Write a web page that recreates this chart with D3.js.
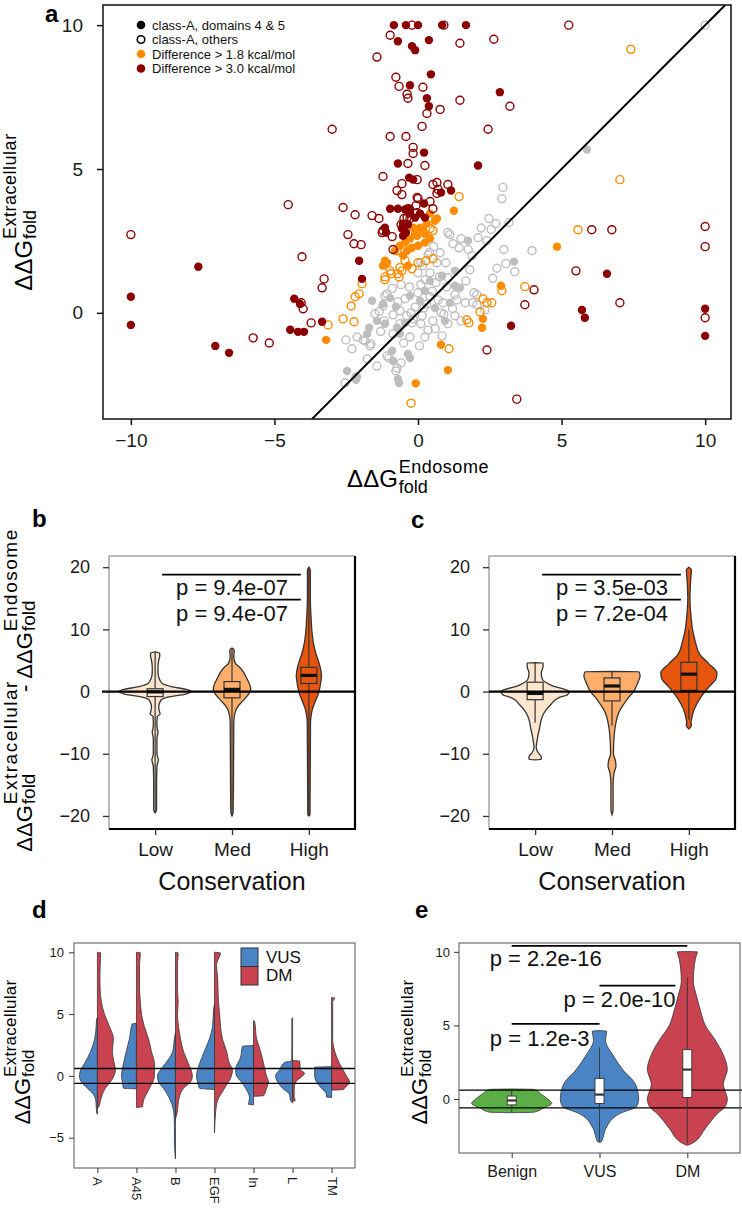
<!DOCTYPE html>
<html>
<head>
<meta charset="utf-8">
<script src="https://cdn.jsdelivr.net/npm/d3@7"></script>
<style>
  body { margin: 0; background: #fff; }
  svg { display: block; font-family: "Liberation Sans", Arial, Helvetica, sans-serif; }
</style>
</head>
<body>
<div id="fig"></div>
<script>
// ---- panel a: DDG endosome (x) vs extracellular (y) ----
const grayOpen = [
  [10,10],[2.96,4.36],[2.92,3.97],[2.47,3.28],[2.71,3.10],[3.17,3.14],[1.11,2.72],[1.50,2.58],[2.40,2.51],[1.43,2.26],
  [1.88,1.99],[2.99,2.20],[3.97,2.16],[3.37,1.43],[3.06,1.71],[1.04,2.79],[1.22,2.40],[2.09,2.61],[0.77,2.09],[0.35,2.02],
  [0.17,1.64],[0.66,1.74],[0.97,1.74],[0,1.39],[0.42,1.39],[1.04,1.22],[1.67,1.11],[-0.59,0.98],[0.10,0.98],[0.63,1.05],
  [2.05,0.63],[2.05,0.28],[2.33,0.10],[1.29,0.63],[-1.15,0.59],[-0.45,0.49],[0.42,0.56],[0.87,0.35],[-1.50,-0.03],[-0.63,0.07],
  [-0.24,0],[0.21,0.17],[0.80,0],[1.29,-0.10],[1.50,-0.28],[-0.21,-0.35],[0.10,-0.38],[0.52,-0.28],[1.04,-0.38],[-2.12,-0.84],
  [-1.84,-0.98],[-1.67,-1.15],[-0.87,-0.73],[-0.28,-0.84],[0.24,-0.84],[0.84,-0.80],[-1.01,-1.57],[-0.59,-1.74],[-1.43,-1.85],[-0.77,-2.02],
  [-2.51,-0.94],[-2.30,-1.25],[-1.91,-0.94],[-1.64,-1.08],[-1.77,-1.60],[-1.08,-1.50],[-0.73,-1.92],[-2.54,-2.44],[-2.16,-2.23],[-1.22,0.24],
  [-0.87,-0.07],[-1.18,-0.28],[-0.63,-0.38],[-0.17,-0.21],[-1.08,0.66],[-0.70,0.38],[1.95,0.70],[1.91,0.35],[0.3,0.3],[0.5,0.75],
  [0.7,0.45],[1.0,0.9],[0.15,-0.1],[-0.1,0.2],[0.6,-0.55],[1.2,0.15],[-0.4,-0.1],[0.35,-0.6],[0.9,-0.05],[1.35,0.45],
  [-0.3,0.9],[0.0,0.7],[0.75,1.25],[0.25,1.15],[-0.9,0.85],[-1.35,0.05],[1.65,0.35],[-0.5,-1.05],[0.05,-1.15],[-1.3,-0.65],
  [2.6,1.2],[2.75,1.55],[1.8,1.5],[1.75,2.2],[2.2,2.95],[2.55,2.9],[0.55,2.3],[0.4,2.1],[0.1,1.75]
];
const grayFilled = [
  [5.88,5.68],[1.74,2.51],[3.34,1.78],[1.46,0.87],[1.29,1.46],[-1.70,-0.52],[-1.43,-0.28],[-0.97,0.52],[-0.28,0.59],[-0.63,-0.73],
  [-0.35,-1.43],[-0.87,-1.67],[-2.47,-2.02],[-2.12,-2.23],[-0.70,-2.30],[-0.66,-2.44],[-2.16,-2.33],[-1.77,-0.73],[-1.15,-0.38],[-0.73,-0.52],
  [0.59,0.17],[0.42,1.11],[0.94,-0.28],[0.07,0.42],[-0.77,0.21],[-0.28,-1.57],[-0.90,-1.32],[-0.45,-0.35],[0.24,0.77],[0.84,1.29],
  [-1.60,0.42],[-1.22,0.31],[1.11,0.35],[1.29,0.94]
];
const orangeOpen = [
  [7.41,9.16],[1.43,4.04],[7.03,4.63],[5.57,2.89],[3.72,0.91],[2.92,0.77],[2.40,0.35],[2.57,0.35],[2.16,0.03],[1.77,-0.35],
  [1.08,-1.25],[-0.24,-3.14],[1.70,-0.24],[2.26,0.49],[-3.13,-0.42],[-2.61,-0.21],[-2.23,-0.31],[-2.33,0.24],[-2.19,0.56],[-2.05,0.66],
  [-1.95,1.01],[-1.15,1.25],[-1.15,1.15],[-0.70,1.36],[-0.97,1.46],[-0.66,1.25],[-0.94,1.36],[-0.63,1.57],[-0.73,2.16],[0.52,2.86],
  [0.42,2.93],[-0.45,1.81],[0,1.74],[0.28,1.81],[0.52,1.88],[-0.56,1.46],[-0.21,1.53]
];
const orangeFilled = [
  [1.25,3.55],[4.84,2.30],[2.89,0.94],[2.26,-0.21],[2.23,-0.52],[0.80,-1.11],[1.04,-1.99],[-0.08,-2.45],[-3.20,-0.94],[0.66,3.28],
  [-0.17,2.96],[-0.03,2.68],[0.24,2.75],[0.42,3.45],[0.59,3.20],[0.31,3.10],[0.07,2.96],[0.17,2.86],[-0.10,2.75],[-0.28,2.58],
  [-0.45,2.44],[-0.63,2.33],[-0.21,2.26],[0,2.33],[0.24,2.44],[0.42,2.58],[-0.38,2.16],[-0.80,2.16],[-0.35,1.64],[-1.22,1.64],
  [-1.15,1.81],[-0.52,1.99],[-1.08,1.74]
];
const redOpen = [
  [-0.21,10],[0.90,10],[5.25,10],[-0.97,9.65],[1.46,9.37],[2.64,9.51],[-1.43,8.89],[-0.77,8.19],[-0.66,7.87],[0.17,7.84],
  [-0.38,7.60],[-0.35,7.46],[1.46,7.39],[3.20,7.18],[0.77,7.07],[0.31,6.93],[0.14,6.48],[-2.99,6.38],[2.44,6.38],[-0.97,6.13],
  [-0.42,6.13],[-0.17,5.75],[-0.17,5.54],[-0.35,5.19],[0.24,5.12],[-1.22,4.74],[-0.03,4.63],[0.66,4.53],[1.04,4.46],[-0.56,4.49],
  [-0.73,4.25],[-0.56,4.11],[0,3.97],[0.42,3.87],[0.52,3.62],[0.70,4.29],[-0.03,4.01],[0.52,4.46],[0.66,4.15],[-0.38,3.31],
  [-1.22,2.86],[-0.35,3.62],[-0.03,3.48],[-4.52,3.76],[-2.61,3.66],[-2.19,3.41],[-1.60,3.38],[-1.36,3.28],[-1.25,2.79],[-0.90,2.65],
  [-0.49,3.28],[-0.28,3.28],[-0.07,3.73],[-0.59,3.07],[-10,2.72],[-2.44,2.72],[-2.23,2.40],[-1.98,2.37],[-0.87,2.20],[-4.04,1.95],
  [-3.27,1.18],[-3.34,0.87],[-4.07,0.35],[-4.00,0.14],[-3.72,-0.35],[-5.74,-0.87],[-5.18,-1.05],[6.05,2.89],[6.75,2.89],[5.50,1.46],
  [10,3.0],[10,2.3],[10,-0.17],[7.03,0.35],[4.04,0.80],[3.72,0.28],[2.40,-1.29],[3.44,-3.0]
];
const redFilled = [
  [-0.84,10],[-0.42,10],[0,10],[0.84,10],[1.67,10],[-0.70,9.44],[0.38,9.48],[-0.21,9.27],[-0.10,9.13],[0.45,8.29],
  [-0.28,7.91],[2.85,7.67],[0.31,7.46],[0.38,7.18],[0.21,5.57],[-0.70,5.19],[2.09,5.12],[-0.31,4.70],[-0.17,4.63],[0.80,4.18],
  [1.15,4.25],[0.21,3.80],[-0.97,3.62],[-0.70,3.62],[-0.45,3.59],[-0.28,3.62],[0.07,3.45],[-0.52,2.96],[-0.42,2.79],[-1.11,2.79],
  [-0.56,2.93],[-0.35,3.07],[-1.15,2.96],[-0.52,3.10],[-0.52,2.68],[-0.28,3.45],[-0.10,3.31],[0.24,3.31],[-2.05,1.81],[-1.95,1.18],
  [-10,0.56],[-7.65,1.60],[-10,-0.42],[-7.06,-1.15],[-6.58,-1.39],[-4.31,0.49],[-4.11,0.31],[-4.45,-0.59],[-4.18,-0.66],[-3.97,-0.66],
  [-3.34,-0.31],[6.58,1.36],[10,0.14],[10,-0.80],[5.71,0.10],[5.81,-0.17],[3.24,-0.45]
];
const legendA = ['class-A, domains 4 & 5', 'class-A, others', 'Difference > 1.8 kcal/mol', 'Difference > 3.0 kcal/mol'];
const ticksAx = [-10, -5, 0, 5, 10];
const ticksAy = [0, 5, 10];

// ---- panels b, c: difference by conservation (profile = [value, relative density]) ----
const conservation = ['Low', 'Med', 'High'];
const ticksBC = [-20, -10, 0, 10, 20];
const bProfiles = [
  [[6.4,0],[6.2,0.12],[5.8,0.13],[5,0.1],[4,0.08],[3,0.08],[2,0.12],[1.3,0.2],[0.8,0.45],[0.3,0.9],[0,1],[-0.4,0.85],[-0.9,0.35],[-1.5,0.15],[-2.5,0.1],[-3.2,0.12],[-3.6,0.14],[-4,0.06],[-5,0.05],[-6,0.06],[-6.5,0.08],[-7.5,0.05],[-10,0.05],[-11,0.09],[-12,0.05],[-15,0.04],[-19,0.04],[-19.5,0]],
  [[7,0],[6.7,0.06],[5.5,0.05],[4.5,0.1],[4,0.2],[3,0.33],[2,0.42],[1,0.5],[0.3,0.52],[-0.5,0.45],[-1.5,0.3],[-2.5,0.15],[-3.5,0.08],[-5,0.05],[-10,0.045],[-15,0.04],[-19.5,0.03],[-20,0]],
  [[20,0],[19.5,0.04],[15,0.04],[12,0.06],[10,0.08],[8,0.12],[6,0.2],[5,0.26],[3.5,0.33],[2.5,0.35],[1.5,0.33],[0,0.28],[-1,0.22],[-2,0.15],[-3,0.09],[-4,0.06],[-5,0.045],[-10,0.04],[-15,0.035],[-19.8,0.03],[-20,0]]
];
const cProfiles = [
  [[4.65,0],[4.6,0.22],[4,0.22],[3,0.17],[2,0.2],[1,0.45],[0,0.95],[-0.5,0.9],[-1,0.65],[-2,0.45],[-3,0.3],[-4,0.2],[-5,0.15],[-6,0.12],[-7,0.08],[-8,0.05],[-9,0.03],[-9.8,0.08],[-10.5,0.17],[-10.9,0.17],[-11,0]],
  [[3.25,0],[3.2,0.75],[2.5,0.78],[1.5,0.72],[0,0.6],[-1,0.45],[-2,0.33],[-3,0.22],[-4,0.15],[-5,0.11],[-6,0.08],[-8,0.05],[-10,0.04],[-11,0.09],[-12,0.11],[-13,0.06],[-15,0.03],[-19,0.03],[-19.8,0]],
  [[20,0],[19.6,0.07],[18,0.05],[15,0.03],[12,0.06],[10,0.1],[8,0.18],[6,0.3],[4.5,0.55],[3,0.78],[2,0.75],[1,0.6],[0,0.45],[-1,0.32],[-2,0.22],[-3,0.14],[-4,0.09],[-5,0.06],[-5.5,0.07],[-6,0]]
];
// [q1, median, q3, whisker low, whisker high]
const bBoxes = [[-0.8,-0.05,0.45,-19.5,6.4],[-1,0.35,1.6,-20,7],[1.3,2.6,3.9,-20,20]];
const cBoxes = [[-1.3,-0.3,1.5,-5,4.6],[-1.5,0.9,2.2,-5.5,3.2],[0.2,2.8,4.7,-4.5,10]];
const bPvals = ['p = 9.4e-07', 'p = 9.4e-07'];
const cPvals = ['p = 3.5e-03', 'p = 7.2e-04'];
const bcPairs = [['Low', 'High'], ['Med', 'High']];

// ---- panel d: split violins by domain, VUS left / DM right ----
const domains = ['A', 'A45', 'B', 'EGF', 'In', 'L', 'TM'];
const ticksD = [-5, 0, 5, 10];
const dVus = [
  [[4.7,0],[4.6,0.04],[4,0.07],[3,0.15],[2,0.37],[1,0.72],[0.5,0.92],[0,1],[-0.5,0.89],[-1,0.56],[-1.5,0.22],[-2,0.09],[-3,0.04],[-3.1,0]],
  [[4.25,0],[4.2,0.24],[3,0.39],[2,0.56],[1,0.72],[0,0.83],[-0.5,0.78],[-1,0.72],[-1.05,0]],
  [[3.5,0],[3,0.06],[2,0.15],[1,0.56],[0.5,0.83],[0,1],[-0.5,0.94],[-1,0.67],[-2,0.28],[-3,0.09],[-4,0.06],[-5,0.06],[-6,0.04],[-6.7,0]],
  [[5.8,0],[5.5,0.04],[4,0.11],[3,0.28],[2,0.56],[1,0.83],[0.5,0.94],[0,1],[-0.5,0.94],[-1,0.83],[-1.1,0]],
  [[2.45,0],[2.4,0.61],[1.5,0.72],[0.5,1],[0,0.94],[-0.5,0.67],[-1,0.44],[-1.8,0.22],[-2.3,0.28],[-2.35,0]],
  [[4.7,0],[4.6,0.04],[2,0.04],[1.2,0.05],[1.1,0.44],[0.5,0.72],[0,0.94],[-0.5,0.83],[-1,0.56],[-1.5,0.17],[-2,0.11],[-2.2,0]],
  [[0.75,0],[0.7,0.94],[0,0.94],[-0.5,0.83],[-1,0.56],[-1.5,0.28],[-1.7,0.28],[-1.75,0]]
];
const dDm = [
  [[10,0],[9.95,0.18],[9.5,0.17],[8,0.14],[7,0.15],[6,0.22],[5,0.39],[4,0.67],[3,0.89],[2,0.83],[1,0.94],[0.5,1],[0,0.92],[-0.5,0.72],[-1,0.44],[-2,0.17],[-2.5,0.08],[-2.6,0]],
  [[10,0],[9.95,0.22],[9,0.17],[7,0.17],[6,0.22],[5,0.28],[4,0.44],[3,0.67],[2,0.83],[1,1],[0,1],[-1,0.72],[-2,0.39],[-2.5,0.33],[-2.55,0]],
  [[10,0],[9.95,0.15],[9,0.11],[7,0.11],[6,0.15],[5,0.11],[4,0.17],[3,0.28],[2,0.44],[1,0.72],[0,0.94],[-0.5,0.83],[-1,0.44],[-2,0.17],[-3,0.09],[-3.5,0]],
  [[10,0],[9.95,0.33],[9.3,0.17],[9,0.11],[8,0.17],[6,0.22],[5,0.28],[3,0.44],[2,0.67],[1,0.83],[0.5,1],[0,0.94],[-1,0.56],[-2,0.17],[-3,0.06],[-4.6,0]],
  [[4.5,0],[4.4,0.06],[3,0.17],[2,0.39],[1,0.56],[0,0.72],[-0.5,0.83],[-1,0.72],[-1.6,0.56],[-1.65,0]],
  [[1.25,0],[1.2,0.39],[0.5,0.44],[0.2,0.67],[0,0.56],[-0.5,0.17],[-1,0.09],[-1.7,0.09],[-2,0.15],[-2.05,0]],
  [[6.35,0],[6.3,0.17],[6,0.06],[3,0.06],[2,0.17],[1,0.44],[0,0.83],[-0.5,1],[-1,0.72],[-1.1,0.67],[-1.15,0]]
];
const dLegend = ['VUS', 'DM'];

// ---- panel e: by clinical class ----
const classes = ['Benign', 'VUS', 'DM'];
const ticksE = [0, 5, 10];
const eProfiles = [
  [[0.68,0],[0.65,0.55],[0.3,0.75],[0,0.9],[-0.3,1],[-0.6,0.8],[-0.9,0.55],[-0.93,0]],
  [[4.65,0],[4.6,0.18],[4,0.15],[3,0.33],[2,0.58],[1,0.9],[0,0.98],[-0.5,0.93],[-1,0.5],[-2,0.16],[-2.7,0.08],[-2.9,0.05],[-2.95,0]],
  [[10.02,0],[10,0.25],[9.5,0.2],[8,0.15],[7,0.23],[6,0.33],[5,0.45],[4,0.7],[3,0.9],[2,1],[1.5,0.95],[1,0.9],[0.5,0.95],[0,1],[-0.5,0.95],[-1,0.75],[-2,0.45],[-3,0.13],[-3.15,0]]
];
const eBoxes = [[-0.4,-0.1,0.2,-0.9,0.65],[-0.3,0.3,1.4,-2.9,3.5],[0.1,2.0,3.35,-3.0,8.3]];
const ePairs = [['Benign', 'DM'], ['VUS', 'DM'], ['Benign', 'VUS']];
const ePvals = ['p = 2.2e-16', 'p = 2.0e-10', 'p = 1.2e-3'];
const eLineY = [10.4, 7.7, 5.1];
const eTextY = [9.05, 6.26, 3.6];
const thresholds = [0.6, -0.6];

// ================= drawing =================
const W = 742, H = 1209;
const svg = d3.select('#fig').append('svg').attr('width', W).attr('height', H);

function styleAxis(sel, fs, col, sw) {
  sel.attr('font-family', null).attr('font-size', fs);
  sel.select('.domain').remove();
  sel.selectAll('.tick line').attr('stroke', col).attr('stroke-width', sw);
  sel.selectAll('.tick text').attr('fill', '#1a1a1a');
}

// ΔΔG with stacked super/subscripts, centred on (x, y) along the baseline
function mathLabel(x, y, angle, parts, o) {
  const g = svg.append('g').attr('transform', `translate(${x},${y}) rotate(${angle})`);
  const inner = g.append('g');
  let cur = 0;
  parts.forEach(p => {
    const t = inner.append('text').attr('x', cur).attr('font-size', o.size).text(p.main);
    cur += t.node().getComputedTextLength();
    if (p.sup) {
      const s1 = inner.append('text').attr('x', cur + 1).attr('y', o.supDy)
        .attr('font-size', o.small).attr('letter-spacing', o.ls).text(p.sup);
      const s2 = inner.append('text').attr('x', cur + 1).attr('y', o.subDy)
        .attr('font-size', o.small).text(p.sub);
      const w = Math.max(s1.node().getComputedTextLength(), s2.node().getComputedTextLength());
      cur += 1 + (p.adv != null ? p.adv : w);
    }
  });
  inner.attr('transform', `translate(${-cur / 2},0)`);
}

function letter(t, x, y) {
  svg.append('text').attr('x', x).attr('y', y).attr('font-size', 24)
    .attr('font-weight', 'bold').text(t);
}

function violinPath(profile, cx, y, w, side) {
  return d3.area()
    .curve(d3.curveMonotoneY)
    .y(d => y(d[0]))
    .x0(d => side === 'right' ? cx : cx - w(d[1]))
    .x1(d => side === 'left' ? cx : cx + w(d[1]))(profile);
}

function drawBox(g, cx, y, b, hw, fill, stroke, sw, medCol, medW) {
  const [q1, med, q3, lo, hi] = b;
  g.append('line').attr('x1', cx).attr('x2', cx).attr('y1', y(hi)).attr('y2', y(q3))
    .attr('stroke', stroke).attr('stroke-width', sw);
  g.append('line').attr('x1', cx).attr('x2', cx).attr('y1', y(q1)).attr('y2', y(lo))
    .attr('stroke', stroke).attr('stroke-width', sw);
  g.append('rect').attr('x', cx - hw).attr('y', y(q3)).attr('width', 2 * hw)
    .attr('height', y(q1) - y(q3)).attr('fill', fill).attr('stroke', stroke).attr('stroke-width', sw);
  g.append('line').attr('x1', cx - hw).attr('x2', cx + hw).attr('y1', y(med)).attr('y2', y(med))
    .attr('stroke', medCol).attr('stroke-width', medW);
}

// ---------- a ----------
const ax = d3.scaleLinear().domain([-10.97, 10.9]).range([103, 731]);
const ay = d3.scaleLinear().domain([-3.69, 10.7]).range([419, 5]);
const gA = svg.append('g');
gA.append('clipPath').attr('id', 'clipA').append('rect')
  .attr('x', 103).attr('y', 5).attr('width', 628).attr('height', 414);
const pts = gA.append('g').attr('clip-path', 'url(#clipA)');
[[grayOpen, '#bebebe', false], [grayFilled, '#bebebe', true],
 [orangeOpen, '#ff8c00', false], [orangeFilled, '#ff8c00', true],
 [redOpen, '#8b0000', false], [redFilled, '#8b0000', true]].forEach(([arr, col, filled]) => {
  pts.append('g').selectAll('circle').data(arr).join('circle')
    .attr('cx', d => ax(d[0])).attr('cy', d => ay(d[1]))
    .attr('r', filled ? 4.2 : 4)
    .attr('fill', filled ? col : 'none')
    .attr('stroke', filled ? 'none' : col).attr('stroke-width', 1.4);
});
pts.append('line')
  .attr('x1', ax(-3.69)).attr('y1', ay(-3.69)).attr('x2', ax(10.7)).attr('y2', ay(10.7))
  .attr('stroke', '#000').attr('stroke-width', 2);
gA.append('rect').attr('x', 103).attr('y', 5).attr('width', 628).attr('height', 414)
  .attr('fill', 'none').attr('stroke', '#111').attr('stroke-width', 1.5);
gA.append('g').attr('transform', 'translate(103,0)')
  .call(d3.axisLeft(ay).tickValues(ticksAy).tickSize(6).tickPadding(14))
  .call(styleAxis, 19, '#111', 1.5);
gA.append('g').attr('transform', 'translate(0,419)')
  .call(d3.axisBottom(ax).tickValues(ticksAx).tickSize(6).tickPadding(9))
  .call(styleAxis, 19, '#111', 1.5);

const legColors = ['#000', '#000', '#ff8c00', '#8b0000'];
const legFilled = [true, false, true, true];
legendA.forEach((lab, i) => {
  const cy = 25 + i * 14.5;
  gA.append('circle').attr('cx', 141).attr('cy', cy).attr('r', legFilled[i] ? 4.3 : 3.8)
    .attr('fill', legFilled[i] ? legColors[i] : 'none')
    .attr('stroke', legFilled[i] ? 'none' : legColors[i]).attr('stroke-width', 1.6);
  gA.append('text').attr('x', 152).attr('y', cy).attr('dy', '0.35em')
    .attr('font-size', 13).attr('fill', '#111').text(lab);
});
letter('a', 45, 22);
mathLabel(32, 212, -90, [{ main: 'ΔΔG', sup: 'Extracellular', sub: 'fold' }],
  { size: 24, small: 18, ls: 0.5, supDy: -16, subDy: 4 });
mathLabel(418, 487, 0, [{ main: 'ΔΔG', sup: 'Endosome', sub: 'fold' }],
  { size: 24, small: 18, ls: 0.5, supDy: -14, subDy: 6 });

// ---------- b, c ----------
const yBC = d3.scaleLinear().domain([-22.1, 21.8]).range([829, 556]);
const consColors = ['#fee6ce', '#fdae6b', '#e6550d'];
function consPanel(x0, x1, profiles, boxes, pvals, zeroExt) {
  const g = svg.append('g');
  const x = d3.scalePoint().domain(conservation).range([x0, x1]).padding(0.6);
  const w = d3.scaleLinear().domain([0, 1]).range([0, 36]);
  g.append('rect').attr('x', x0).attr('y', 556).attr('width', x1 - x0).attr('height', 273)
    .attr('fill', 'none').attr('stroke', '#777').attr('stroke-width', 1);
  conservation.forEach((c, i) => {
    g.append('path').attr('d', violinPath(profiles[i], x(c), yBC, w, 'both'))
      .attr('fill', consColors[i]).attr('stroke', '#333').attr('stroke-width', 1.3);
    drawBox(g, x(c), yBC, boxes[i], 8, consColors[i], '#333', 1.2, '#111', 3.2);
  });
  g.append('line').attr('x1', x0 - zeroExt).attr('x2', x1).attr('y1', yBC(0)).attr('y2', yBC(0))
    .attr('stroke', '#000').attr('stroke-width', 2.2);
  g.append('line').attr('x1', x1).attr('x2', x1).attr('y1', 556).attr('y2', 830)
    .attr('stroke', '#000').attr('stroke-width', 2.2);
  g.append('line').attr('x1', x0).attr('x2', x1 + 1).attr('y1', 829).attr('y2', 829)
    .attr('stroke', '#000').attr('stroke-width', 2.2);
  g.append('g').attr('transform', `translate(${x0},0)`)
    .call(d3.axisLeft(yBC).tickValues(ticksBC).tickSize(6).tickPadding(13))
    .call(styleAxis, 18, '#333', 1.3);
  g.append('g').attr('transform', 'translate(0,829)')
    .call(d3.axisBottom(x).tickSize(6).tickPadding(8))
    .call(styleAxis, 19, '#333', 1.3);
  g.append('text').attr('x', x('Med')).attr('y', 890).attr('text-anchor', 'middle')
    .attr('font-size', 25).attr('fill', '#111').text('Conservation');
  const lineY = [18.8, 14.8], textY = [15.6, 11.4];
  bcPairs.forEach((p, i) => {
    g.append('line').attr('x1', x(p[0]) + 7).attr('x2', x(p[1]) - 8)
      .attr('y1', yBC(lineY[i])).attr('y2', yBC(lineY[i]))
      .attr('stroke', '#000').attr('stroke-width', 1.8);
    g.append('text').attr('x', x('Med')).attr('y', yBC(textY[i])).attr('text-anchor', 'middle')
      .attr('font-size', 22).attr('fill', '#111').text(pvals[i]);
  });
}
consPanel(109, 355, bProfiles, bBoxes, bPvals, 7);
consPanel(489, 735, cProfiles, cBoxes, cPvals, 0);
letter('b', 32, 527);
letter('c', 411, 528);
mathLabel(32, 690, -90, [
  { main: 'ΔΔG', sup: 'Extracellular', sub: 'fold', adv: 106 },
  { main: '\u00a0-\u00a0' },
  { main: 'ΔΔG', sup: 'Endosome', sub: 'fold' }],
  { size: 22, small: 19, ls: 1.5, supDy: -15, subDy: 3 });

// ---------- d ----------
const blue = '#4b84c4', red = '#c9424f', green = '#5aae45';
const yD = d3.scaleLinear().domain([-7.45, 10.75]).range([1168, 943]);
const xD = d3.scalePoint().domain(domains).range([74, 355]).padding(0.6);
const wD = d3.scaleLinear().domain([0, 1]).range([0, 18]);
const gD = svg.append('g');
domains.forEach((dm, i) => {
  gD.append('path').attr('d', violinPath(dVus[i], xD(dm), yD, wD, 'left'))
    .attr('fill', blue).attr('stroke', '#333').attr('stroke-width', 0.8);
  gD.append('path').attr('d', violinPath(dDm[i], xD(dm), yD, wD, 'right'))
    .attr('fill', red).attr('stroke', '#333').attr('stroke-width', 0.8);
});
thresholds.forEach(t => {
  gD.append('line').attr('x1', 74).attr('x2', 355).attr('y1', yD(t)).attr('y2', yD(t))
    .attr('stroke', '#000').attr('stroke-width', 1.3);
});
gD.append('rect').attr('x', 74).attr('y', 943).attr('width', 281).attr('height', 225)
  .attr('fill', 'none').attr('stroke', '#555').attr('stroke-width', 1);
gD.append('g').attr('transform', 'translate(74,0)')
  .call(d3.axisLeft(yD).tickValues(ticksD).tickSize(5).tickPadding(5))
  .call(styleAxis, 13, '#333', 1);
const dx = gD.append('g').attr('transform', 'translate(0,1168)')
  .call(d3.axisBottom(xD).tickSize(5))
  .call(styleAxis, 13, '#333', 1);
dx.selectAll('.tick text').attr('transform', 'rotate(90)')
  .attr('x', 9).attr('y', 0).attr('dy', '0.35em').attr('text-anchor', 'start');
[blue, red].forEach((col, i) => {
  gD.append('rect').attr('x', 241).attr('y', 948 + i * 18.5).attr('width', 17).attr('height', 18.5)
    .attr('fill', col).attr('stroke', '#333').attr('stroke-width', 1);
  gD.append('text').attr('x', 266).attr('y', 957 + i * 18.5).attr('dy', '0.35em')
    .attr('font-size', 17).attr('fill', '#111').text(dLegend[i]);
});
letter('d', 32, 918);
mathLabel(30, 1052, -90, [{ main: 'ΔΔG', sup: 'Extracellular', sub: 'fold' }],
  { size: 22, small: 17, ls: 0.3, supDy: -14, subDy: 4 });

// ---------- e ----------
const yE = d3.scaleLinear().domain([-3.67, 10.6]).range([1153, 943]);
const xE = d3.scalePoint().domain(classes).range([459, 740]).padding(0.6);
const wE = d3.scaleLinear().domain([0, 1]).range([0, 40]);
const gE = svg.append('g');
const eColors = [green, blue, red];
classes.forEach((c, i) => {
  gE.append('path').attr('d', violinPath(eProfiles[i], xE(c), yE, wE, 'both'))
    .attr('fill', eColors[i]).attr('stroke', '#333').attr('stroke-width', 0.8);
});
thresholds.forEach(t => {
  gE.append('line').attr('x1', 459).attr('x2', 742).attr('y1', yE(t)).attr('y2', yE(t))
    .attr('stroke', '#000').attr('stroke-width', 1.3);
});
classes.forEach((c, i) => {
  drawBox(gE, xE(c), yE, eBoxes[i], 4.5, '#fff', '#333', 0.9, '#333', 2.2);
});
gE.append('rect').attr('x', 459).attr('y', 943).attr('width', 281).attr('height', 210)
  .attr('fill', 'none').attr('stroke', '#555').attr('stroke-width', 1);
gE.append('g').attr('transform', 'translate(459,0)')
  .call(d3.axisLeft(yE).tickValues(ticksE).tickSize(5).tickPadding(4))
  .call(styleAxis, 13, '#333', 1);
gE.append('g').attr('transform', 'translate(0,1153)')
  .call(d3.axisBottom(xE).tickSize(5).tickPadding(8))
  .call(styleAxis, 16, '#333', 1);
const eTextDx = [34, 20, 28];
const eTrim = [0, 12, 0];
ePairs.forEach((p, i) => {
  gE.append('line').attr('x1', xE(p[0])).attr('x2', xE(p[1]) - eTrim[i])
    .attr('y1', yE(eLineY[i])).attr('y2', yE(eLineY[i]))
    .attr('stroke', '#000').attr('stroke-width', 1.8);
  gE.append('text').attr('x', xE(i === 1 ? 'VUS' : 'Benign') + eTextDx[i]).attr('y', yE(eTextY[i]))
    .attr('text-anchor', 'middle').attr('font-size', 22).attr('fill', '#111').text(ePvals[i]);
});
letter('e', 415, 918);
mathLabel(427, 1052, -90, [{ main: 'ΔΔG', sup: 'Extracellular', sub: 'fold' }],
  { size: 22, small: 17, ls: 0.3, supDy: -14, subDy: 4 });
</script>
</body>
</html>
